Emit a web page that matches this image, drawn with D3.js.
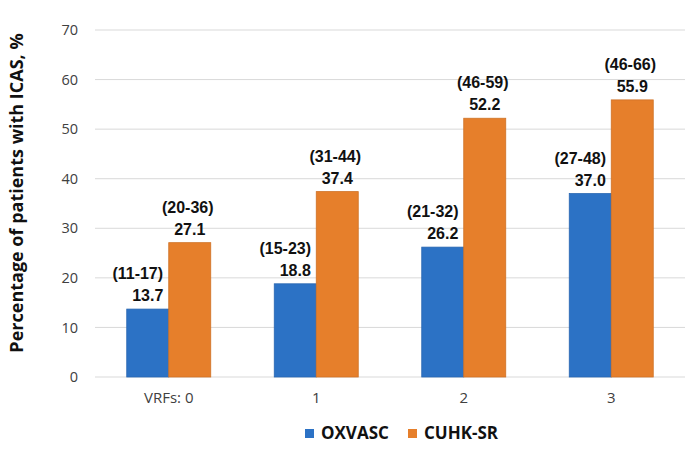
<!DOCTYPE html>
<html>
<head>
<meta charset="utf-8">
<script src="https://cdn.jsdelivr.net/npm/d3@7"></script>
<style>
  body { margin: 0; background: #fff; }
  text { font-family: "Open Sans", "Noto Sans", sans-serif; }
  .lbl { font-family: "Liberation Sans", Arial, sans-serif; }
</style>
</head>
<body>
<svg id="chart" width="696" height="450"></svg>
<script>
var categories = ['VRFs: 0', '1', '2', '3'];
var seriesNames = ['OXVASC', 'CUHK-SR'];
var oxvasc = [13.7, 18.8, 26.2, 37.0];
var cuhk = [27.1, 37.4, 52.2, 55.9];
var oxvascCI = ['(11-17)', '(15-23)', '(21-32)', '(27-48)'];
var cuhkCI = ['(20-36)', '(31-44)', '(46-59)', '(46-66)'];
var yTicks = [0, 10, 20, 30, 40, 50, 60, 70];

var colors = ['#2c72c5', '#e67f2b'];
var svg = d3.select('#chart');
var margin = {top: 30, right: 11, bottom: 73, left: 95};
var width = 696 - margin.left - margin.right;
var height = 450 - margin.top - margin.bottom;

var g = svg.append('g').attr('transform', 'translate(' + margin.left + ',' + margin.top + ')');

var x = d3.scaleBand().domain(categories).range([0, width]);
var y = d3.scaleLinear().domain([0, 70]).range([height, 0]);
var barW = 42;

// gridlines
g.selectAll('.grid')
  .data(yTicks)
  .enter().append('line')
    .attr('x1', 0)
    .attr('x2', width)
    .attr('y1', function(d) { return y(d); })
    .attr('y2', function(d) { return y(d); })
    .attr('stroke', '#d9d9d9')
    .attr('stroke-width', 1);

// y tick labels
g.selectAll('.ytick')
  .data(yTicks)
  .enter().append('text')
    .attr('x', -17)
    .attr('y', function(d) { return y(d); })
    .attr('dy', '0.35em')
    .attr('text-anchor', 'end')
    .attr('font-size', '14.5px')
    .attr('fill', '#404040')
    .text(function(d) { return d; });

// x labels
g.selectAll('.xtick')
  .data(categories)
  .enter().append('text')
    .attr('x', function(d) { return x(d) + x.bandwidth() / 2; })
    .attr('y', height + 21)
    .attr('dy', '0.35em')
    .attr('text-anchor', 'middle')
    .attr('font-size', '15px')
    .attr('fill', '#404040')
    .text(function(d) { return d; });

var series = [
  {name: seriesNames[0], values: oxvasc, ci: oxvascCI, off: -barW, ciShift: -10, color: colors[0]},
  {name: seriesNames[1], values: cuhk, ci: cuhkCI, off: 0, ciShift: -2, color: colors[1]}
];

function rowsOf(s) {
  return categories.map(function(c, i) { return {cat: c, v: s.values[i], ci: s.ci[i]}; });
}

// bars first
series.forEach(function(s) {
  g.selectAll(null)
    .data(rowsOf(s))
    .enter().append('rect')
      .attr('x', function(d) { return x(d.cat) + x.bandwidth() / 2 + s.off; })
      .attr('y', function(d) { return y(d.v); })
      .attr('width', barW)
      .attr('height', function(d) { return height - y(d.v); })
      .attr('fill', s.color)
      .attr('stroke', d3.color(s.color).darker(0.3))
      .attr('stroke-width', 0.8);
});

// then labels on top
series.forEach(function(s) {
  var rows = rowsOf(s);
  g.selectAll(null)
    .data(rows)
    .enter().append('text')
      .attr('class', 'lbl')
      .attr('x', function(d) { return x(d.cat) + x.bandwidth() / 2 + s.off + barW / 2; })
      .attr('y', function(d) { return y(d.v) - 8; })
      .attr('text-anchor', 'middle')
      .attr('font-size', '16px')
      .attr('font-weight', 'bold')
      .attr('fill', '#111')
      .text(function(d) { return d.v.toFixed(1); });

  g.selectAll(null)
    .data(rows)
    .enter().append('text')
      .attr('class', 'lbl')
      .attr('x', function(d) { return x(d.cat) + x.bandwidth() / 2 + s.off + barW / 2 + s.ciShift; })
      .attr('y', function(d) { return y(d.v) - 30; })
      .attr('text-anchor', 'middle')
      .attr('font-size', '16px')
      .attr('font-weight', 'bold')
      .attr('fill', '#111')
      .text(function(d) { return d.ci; });
});

// y axis title
svg.append('text')
  .attr('transform', 'translate(23,193) rotate(-90)')
  .attr('text-anchor', 'middle')
  .attr('font-size', '18px')
  .attr('font-weight', 'bold')
  .attr('fill', '#111')
  .text('Percentage of patients with ICAS, %');

// legend
var legendX = [305, 408];
series.forEach(function(s, i) {
  var lg = svg.append('g').attr('transform', 'translate(' + legendX[i] + ',429)');
  lg.append('rect').attr('width', 9).attr('height', 9).attr('fill', s.color);
  lg.append('text')
    .attr('x', 16)
    .attr('y', 4.5)
    .attr('dy', '0.35em')
    .attr('font-size', '17px')
    .attr('font-weight', 'bold')
    .attr('fill', '#111')
    .text(s.name);
});
</script>
</body>
</html>
